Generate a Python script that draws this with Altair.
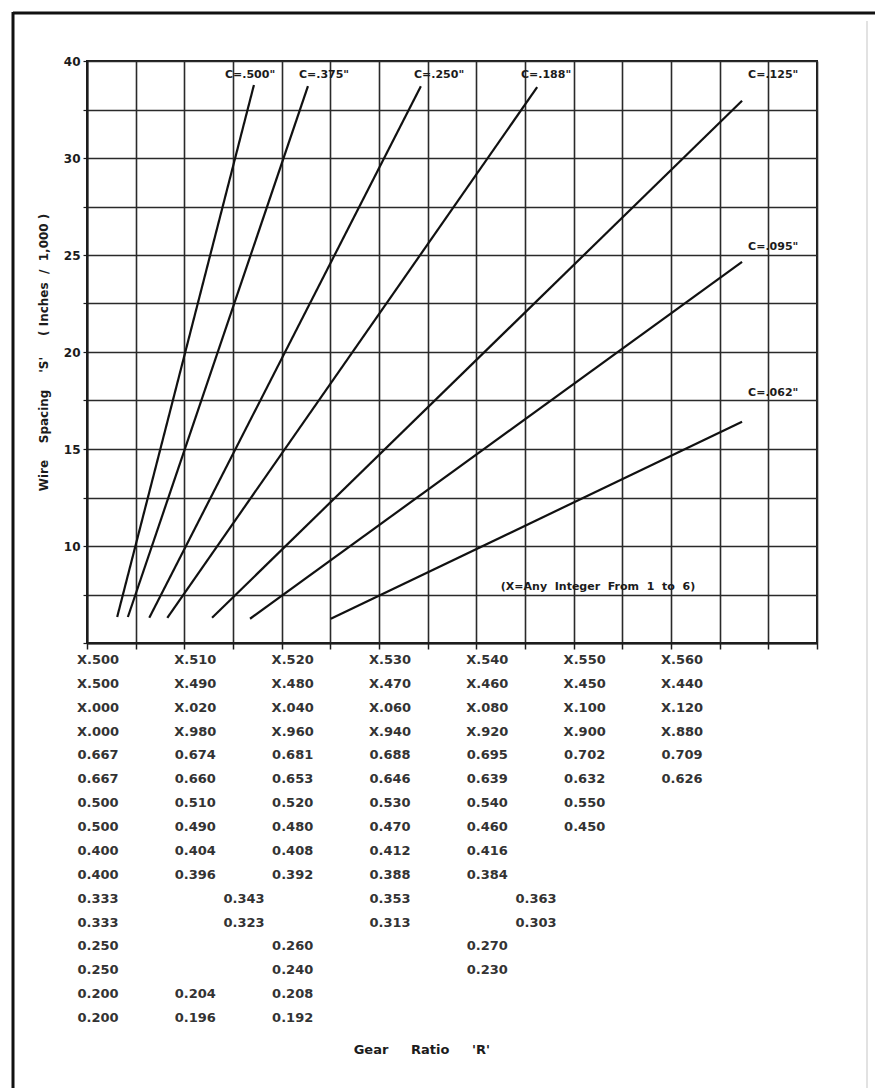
import altair as alt
import pandas as pd

# ---- curves: wire spacing S (in./1,000) against gear-ratio position, one per C
c_labels = ['C=.500"', 'C=.375"', 'C=.250"', 'C=.188"', 'C=.125"', 'C=.095"', 'C=.062"']
r_start = [0.5031, 0.5042, 0.5064, 0.50825, 0.51285, 0.51675, 0.52505]
s_start = [6.34, 6.34, 6.30, 6.30, 6.30, 6.25, 6.25]
r_end = [0.51715, 0.5227, 0.5343, 0.54625, 0.5673, 0.5673, 0.5673]
s_end = [33.76, 33.70, 33.70, 33.65, 32.95, 24.65, 16.40]
label_r = [0.51675, 0.52435, 0.53617, 0.54716, 0.5705, 0.5705, 0.5705]
label_s = [34.28, 34.28, 34.28, 34.28, 34.28, 25.41, 17.89]

NB = "\u00a0"
note_text = f"(X=Any{NB}{NB}Integer{NB}{NB}From{NB}{NB}1{NB}{NB}to{NB}{NB}6)"
note_r = 0.5525
note_s = 7.89

# ---- gear-ratio table printed under the chart (one list per row)
table_rows = [
    ["X.500", "X.510", "X.520", "X.530", "X.540", "X.550", "X.560"],
    ["X.500", "X.490", "X.480", "X.470", "X.460", "X.450", "X.440"],
    ["X.000", "X.020", "X.040", "X.060", "X.080", "X.100", "X.120"],
    ["X.000", "X.980", "X.960", "X.940", "X.920", "X.900", "X.880"],
    ["0.667", "0.674", "0.681", "0.688", "0.695", "0.702", "0.709"],
    ["0.667", "0.660", "0.653", "0.646", "0.639", "0.632", "0.626"],
    ["0.500", "0.510", "0.520", "0.530", "0.540", "0.550"],
    ["0.500", "0.490", "0.480", "0.470", "0.460", "0.450"],
    ["0.400", "0.404", "0.408", "0.412", "0.416"],
    ["0.400", "0.396", "0.392", "0.388", "0.384"],
    ["0.333", "0.343", "0.353", "0.363"],
    ["0.333", "0.323", "0.313", "0.303"],
    ["0.250", "0.260", "0.270"],
    ["0.250", "0.240", "0.230"],
    ["0.200", "0.204", "0.208"],
    ["0.200", "0.196", "0.192"],
]
# grid cells between neighbouring entries of each row
row_steps = [2, 2, 2, 2, 2, 2, 2, 2, 2, 2, 3, 3, 4, 4, 2, 2]

x_title = f"Gear{NB}{NB}{NB}{NB}{NB}Ratio{NB}{NB}{NB}{NB}{NB}'R'"
y_title = (f"Wire{NB}{NB}{NB}{NB}Spacing{NB}{NB}{NB}{NB}'S'{NB}{NB}{NB}{NB}{NB}"
           f"({NB}Inches{NB}{NB}/{NB}{NB}1,000{NB})")

CELL = 0.005
R0 = 0.500

curves = pd.DataFrame({"C": c_labels, "r0": r_start, "s0": s_start, "r1": r_end, "s1": s_end})
labels = pd.DataFrame({"C": c_labels, "r": label_r, "s": label_s})
note = pd.DataFrame({"t": [note_text], "r": [note_r], "s": [note_s]})

recs = []
for i, (row, step) in enumerate(zip(table_rows, row_steps)):
    for j, txt in enumerate(row):
        recs.append({"row": i, "tx": R0 + j * step * CELL, "t": txt})
table = pd.DataFrame(recs)
title_df = pd.DataFrame({"t": [x_title], "tx": [0.5344], "row": [16.35]})

INK = "#1c1c1c"
FONT = "DejaVu Sans"

xs = alt.Scale(domain=[0.5, 0.575], nice=False, zero=False)
ys = alt.Scale(domain=[5, 35], nice=False, zero=False)
x_vals = [round(R0 + CELL * i, 3) for i in range(16)]
y_vals = [5 + 2.5 * i for i in range(13)]

x_axis = alt.Axis(values=x_vals, labels=False, title=None, grid=True,
                  gridColor="#2a2a2a", gridWidth=1.6, tickSize=6, tickColor=INK,
                  tickWidth=1.5, domainColor=INK, domainWidth=2)
y_axis = alt.Axis(values=y_vals, grid=True, gridColor="#2a2a2a", gridWidth=1.6,
                  labelExpr="datum.value == 35 ? '40' : (datum.value % 5 == 0 && datum.value > 5 ? datum.value : '')",
                  tickSize=4, tickColor=INK, tickWidth=1.2, labelPadding=3,
                  labelFont=FONT, labelFontSize=12, labelColor=INK, labelFontWeight="bold",
                  domainColor=INK, domainWidth=2,
                  title=y_title, titleFont=FONT, titleFontSize=12, titleFontWeight="bold",
                  titleColor=INK, titlePadding=13)

lines = alt.Chart(curves).mark_rule(color="#111", strokeWidth=2.2).encode(
    x=alt.X("r0:Q", scale=xs, axis=x_axis),
    x2="r1:Q",
    y=alt.Y("s0:Q", scale=ys, axis=y_axis),
    y2="s1:Q",
)
clabels = alt.Chart(labels).mark_text(font=FONT, fontSize=11, fontWeight="bold", color=INK).encode(
    x=alt.X("r:Q", scale=xs, axis=x_axis), y=alt.Y("s:Q", scale=ys, axis=y_axis), text="C:N")
notes = alt.Chart(note).mark_text(font=FONT, fontSize=11, fontWeight="bold", color=INK).encode(
    x=alt.X("r:Q", scale=xs, axis=x_axis), y=alt.Y("s:Q", scale=ys, axis=y_axis), text="t:N")
main = alt.layer(lines, clabels, notes)

rows_scale = alt.Scale(domain=[0, 15], range=[599, 957], nice=False, zero=False)
table_text = alt.Chart(table).mark_text(font=FONT, fontSize=13, fontWeight="bold", color="#333333", dx=11).encode(
    x=alt.X("tx:Q", scale=xs, axis=x_axis),
    y=alt.Y("row:Q", scale=rows_scale, axis=None),
    text="t:N")
gear_title = alt.Chart(title_df).mark_text(font=FONT, fontSize=13, fontWeight="bold", color=INK).encode(
    x=alt.X("tx:Q", scale=xs, axis=x_axis),
    y=alt.Y("row:Q", scale=rows_scale, axis=None),
    text="t:N")
lower = alt.layer(table_text, gear_title)

# page frame around the sheet
frame_df = pd.DataFrame({"k": [0]})
frame_left = alt.Chart(frame_df).mark_rule(color="#111", strokeWidth=3).encode(
    x=alt.value(-74), y=alt.value(-49), y2=alt.value(1027))
frame_top = alt.Chart(frame_df).mark_rule(color="#111", strokeWidth=3).encode(
    x=alt.value(-74), x2=alt.value(788), y=alt.value(-48))
frame_right = alt.Chart(frame_df).mark_rule(color="#d8d8d8", strokeWidth=1.5).encode(
    x=alt.value(780), y=alt.value(-40), y2=alt.value(1027))
frame = alt.layer(frame_left, frame_top, frame_right)

chart = alt.layer(main, lower, frame).resolve_scale(y="independent").properties(
    width=730, height=582,
    autosize=alt.AutoSizeParams(type="none"),
    padding={"left": 87, "top": 61, "right": 58, "bottom": 445},
    background="white",
).configure_view(stroke=INK, strokeWidth=2)

chart.save("out.html", embed_options={"renderer": "svg", "actions": False})
